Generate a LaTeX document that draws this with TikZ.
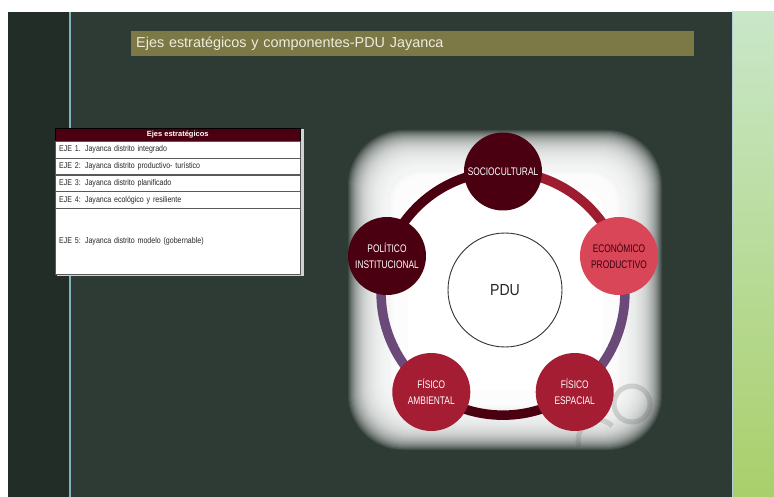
\documentclass[tikz,border=0pt]{standalone}
\usepackage{fontspec}
\setmainfont{Liberation Sans}
\newfontfamily\narrowfont[FakeStretch=0.76]{Liberation Sans}
\newfontfamily\tablefont[FakeStretch=0.84]{Liberation Sans}
\newfontfamily\pdufont[FakeStretch=0.88]{Liberation Sans}
\usepackage{tikz}
\usetikzlibrary{positioning}
\definecolor{slide}{HTML}{2E3B35}
\definecolor{slideleft}{HTML}{222D28}
\definecolor{edgeline}{HTML}{7FB3BC}
\definecolor{olive}{HTML}{7C7946}
\definecolor{titletext}{HTML}{EEEBDD}
\definecolor{maroon}{HTML}{4B0012}
\definecolor{crimson}{HTML}{A51D33}
\definecolor{rose}{HTML}{D84657}
\definecolor{plum}{HTML}{6B4A79}
\definecolor{leaftop}{HTML}{C9E7C9}
\definecolor{leafbot}{HTML}{A9CF6B}
\pgfdeclarelayer{back}
\pgfdeclarelayer{ring}
\pgfsetlayers{back,ring,main}
\tikzset{
  axis/.style={circle, minimum size=78pt, inner sep=0pt, align=center,
    font=\narrowfont\fontsize{11}{16}\selectfont, text=white},
  seg/.style={line width=9.5pt, bend left=36, looseness=0.94},
  row/.style={draw=black!65, fill=white, text width=237pt, inner xsep=4pt,
    inner ysep=0pt, minimum height=16.3pt, align=left, text=black!85,
    font=\tablefont\fontsize{8.4}{10}\selectfont},
  glow/.style={fill=white, rounded corners=30pt+0.6*#1}
}

\begin{document}
\begin{tikzpicture}[x=1pt,y=-1pt]
    \useasboundingbox (0,0) rectangle (774,497);

    \begin{pgfonlayer}{back}
    \fill[white] (0,0) rectangle (774,497);
    \fill[slideleft] (8,12) rectangle (70,497);
    \fill[slide] (70,12) rectangle (732,497);
    \draw[edgeline, line width=2pt] (70,12) -- (70,497);
    \shade[top color=leaftop, bottom color=leafbot] (732,12) rectangle (774,497);
    \draw[edgeline!60!white, line width=1.2pt] (732.6,12) -- (732.6,497);
    \foreach \g in {42,41,...,1}
      \path[glow=\g, fill opacity=0.085] (390-\g,172-\g) rectangle (620+\g,408+\g);
    \foreach \g in {0,-1,...,-16}
      \path[glow=\g, fill opacity=0.3] (390-\g,172-\g) rectangle (620+\g,408+\g);
    \path[glow=-18] (408,190) rectangle (602,390);
    \draw[black!70, opacity=0.2, line width=5pt] (632,404) circle (18);
    \draw[black!70, opacity=0.18, line width=5pt] (598,440) ++(-45:20) arc[start angle=-45, end angle=-200, radius=20];
    \end{pgfonlayer}

    \node[fill=olive, anchor=north west, minimum height=25pt, text width=553pt, inner xsep=5pt,
      font=\fontsize{14.4}{16}\selectfont, text=titletext] (title) at (131,31) {Ejes estratégicos y componentes-PDU Jayanca};

    \fill[black!18] (57,129) rectangle (304,276);
    \node[draw=black, fill=maroon, text=white, minimum width=245pt, minimum height=13pt, inner sep=0pt,
      font=\bfseries\fontsize{7.5}{9}\selectfont, anchor=north west] (head) at (55,128) {Ejes estratégicos};
    \node[row, below=0pt of head] (Eje-1) {EJE 1. Jayanca distrito integrado};
    \node[row, below=0pt of Eje-1] (Eje-2) {EJE 2: Jayanca distrito productivo- turístico};
    \node[row, below=0pt of Eje-2] (Eje-3) {EJE 3: Jayanca distrito planificado};
    \node[row, below=0pt of Eje-3] (Eje-4) {EJE 4: Jayanca ecológico y resiliente};
    \node[row, below=0pt of Eje-4, minimum height=66pt] (Eje-5) {EJE 5: Jayanca distrito modelo (gobernable)};

    \node[circle, draw=black!80, line width=0.9pt, fill=white, minimum size=114pt,
      font=\pdufont\fontsize{16}{18}\selectfont, text=black!85] (PDU) at (505,290) {PDU};
    \node[axis, fill=maroon] (Socio) at (503,171.5) {SOCIOCULTURAL};
    \node[axis, fill=rose, text=maroon!80!black] (Econ) at (619,256) {ECONÓMICO\\PRODUCTIVO};
    \node[axis, fill=crimson] (Espacial) at (574.7,392) {FÍSICO\\ESPACIAL};
    \node[axis, fill=crimson] (Ambiental) at (431.3,392) {FÍSICO\\AMBIENTAL};
    \node[axis, fill=maroon] (Politico) at (387,256) {POLÍTICO\\INSTITUCIONAL};

    \begin{pgfonlayer}{ring}
    \draw[seg, crimson!95!black] (Socio.center) to (Econ.center);
    \draw[seg, plum] (Econ.center) to (Espacial.center);
    \draw[seg, maroon] (Espacial.center) to (Ambiental.center);
    \draw[seg, plum] (Ambiental.center) to (Politico.center);
    \draw[seg, maroon] (Politico.center) to (Socio.center);
    \end{pgfonlayer}
\end{tikzpicture}
\end{document}
